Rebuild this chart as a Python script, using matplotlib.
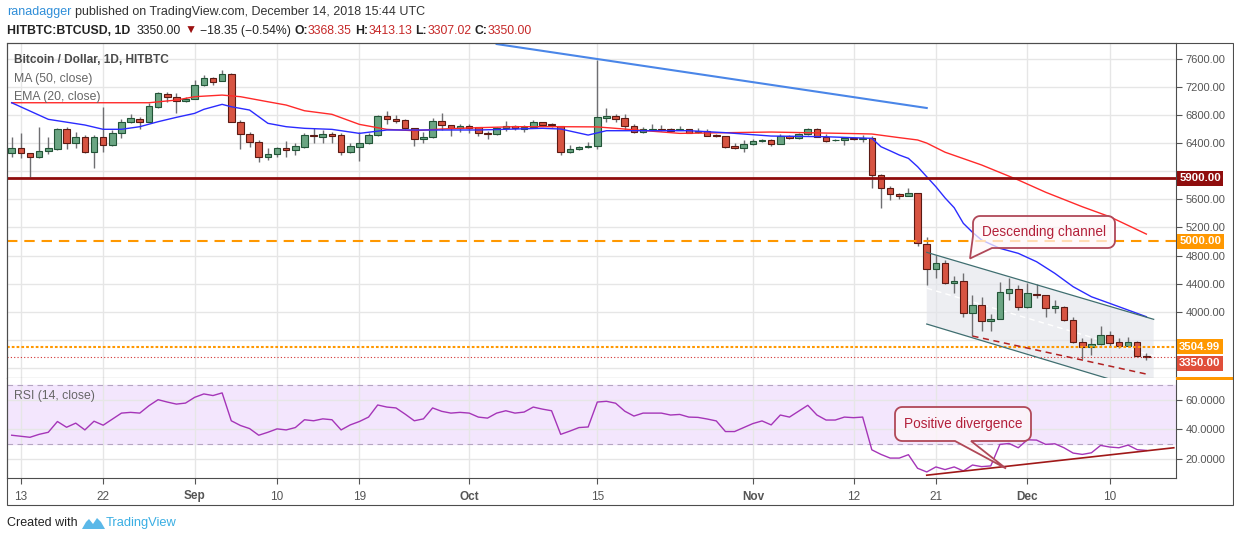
import numpy as np
import pandas as pd
import matplotlib
matplotlib.use("Agg")
import matplotlib.pyplot as plt
from matplotlib.patches import Polygon, Rectangle
from matplotlib.ticker import FuncFormatter
from matplotlib.transforms import IdentityTransform

plt.rcParams["font.family"] = ["Liberation Sans", "DejaVu Sans"]

W, H = 1234, 541

# ---- daily candles, Aug 12 .. Dec 14 2018 ----
dates = pd.date_range("2018-08-12", "2018-12-14", freq="D")

opens = [
    6254, 6325, 6254, 6197, 6287, 6315, 6596, 6396, 6490, 6273,
    6481, 6368, 6538, 6695, 6738, 6704, 6917, 7094, 7051, 6994,
    7031, 7222, 7321, 7283, 7378, 6704, 6529, 6410, 6197, 6249,
    6325, 6297, 6339, 6510, 6490, 6529, 6510, 6269, 6349, 6396,
    6510, 6785, 6738, 6723, 6610, 6453, 6481, 6709, 6652, 6610,
    6638, 6624, 6547, 6524, 6610, 6638, 6600, 6629, 6695, 6671,
    6643, 6269, 6311, 6339, 6354, 6762, 6781, 6752, 6638, 6553,
    6591, 6605, 6600, 6586, 6600, 6562, 6576, 6515, 6500, 6353,
    6334,
    6382, 6429, 6443, 6387, 6500, 6477, 6524, 6596, 6491, 6439,
    6439, 6476, 6462, 6467, 5945, 5756, 5676, 5648, 5686, 4960,
    4610, 4689, 4404, 4432, 3977, 4095, 3872, 3896, 4270, 4318,
    4062, 4252, 4233, 4048, 4062, 3877, 3565, 3493, 3536, 3668,
    3565, 3516, 3565, 3368.35,
]
highs = [
    6481, 6538, 6265, 6624, 6481, 6620, 6634, 6561, 6514, 6514,
    6909, 6586, 6738, 6813, 6775, 6965, 7131, 7131, 7108, 7059,
    7297, 7368, 7336, 7439, 7392, 6728, 6561, 6443, 6325, 6339,
    6429, 6405, 6538, 6610, 6586, 6561, 6538, 6396, 6561, 6538,
    6799, 6860, 6799, 6738, 6615, 6561, 6752, 6823, 6657, 6671,
    6671, 6633, 6576, 6624, 6718, 6652, 6657, 6728, 6704, 6681,
    6648, 6368, 6358, 6415, 7575, 6894, 6813, 6813, 6671, 6624,
    6671, 6652, 6610, 6647, 6605, 6610, 6600, 6529, 6500, 6396,
    6443,
    6453, 6462, 6457, 6529, 6510, 6538, 6610, 6610, 6529, 6457,
    6491, 6491, 6510, 6495, 5965, 5790, 5695, 5756, 5690, 5058,
    4807, 4735, 4508, 4546, 4238, 4213, 3967, 4418, 4484, 4380,
    4413, 4390, 4240, 4166, 4080, 3920, 3621, 3621, 3797, 3730,
    3621, 3644, 3587, 3413.13,
]
lows = [
    6197, 6183, 5921, 6190, 6240, 6300, 6315, 6325, 6265, 6041,
    6273, 6360, 6468, 6681, 6596, 6700, 6894, 6988, 6823, 6988,
    7025, 7212, 7226, 7280, 6700, 6311, 6348, 6135, 6159, 6206,
    6206, 6230, 6335, 6405, 6405, 6405, 6236, 6254, 6149, 6382,
    6505, 6666, 6681, 6596, 6362, 6405, 6472, 6586, 6505, 6561,
    6547, 6505, 6462, 6520, 6576, 6586, 6561, 6625, 6643, 6633,
    6236, 6254, 6301, 6330, 6320, 6704, 6704, 6586, 6543, 6538,
    6581, 6576, 6562, 6581, 6538, 6538, 6495, 6486, 6325, 6320,
    6277,
    6377, 6420, 6358, 6382, 6458, 6458, 6515, 6486, 6420, 6429,
    6377, 6443, 6420, 5756, 5471, 5590, 5610, 5640, 4934, 4380,
    4475, 4390, 4262, 3920, 3654, 3725, 3725, 3890, 4166, 4024,
    4055, 4190, 3929, 3977, 3870, 3560, 3323, 3384, 3530, 3502,
    3479, 3510, 3360, 3307.02,
]
closes = [
    6325, 6254, 6197, 6287, 6325, 6596, 6396, 6490, 6273, 6481,
    6368, 6538, 6695, 6752, 6704, 6927, 7108, 7051, 6994, 7031,
    7222, 7321, 7273, 7378, 6704, 6529, 6410, 6197, 6249, 6325,
    6297, 6358, 6514, 6496, 6524, 6505, 6269, 6358, 6396, 6510,
    6785, 6738, 6714, 6610, 6453, 6486, 6709, 6652, 6610, 6638,
    6619, 6538, 6524, 6610, 6638, 6610, 6629, 6695, 6662, 6657,
    6269, 6311, 6339, 6358, 6766, 6781, 6747, 6638, 6553, 6596,
    6605, 6591, 6567, 6600, 6548, 6576, 6505, 6496, 6348, 6334,
    6382,
    6424, 6448, 6391, 6496, 6477, 6524, 6596, 6491, 6434, 6448,
    6472, 6458, 6476, 5945, 5756, 5676, 5648, 5686, 4973, 4610,
    4689, 4404, 4432, 3977, 4095, 3872, 3896, 4285, 4318, 4062,
    4262, 4233, 4048, 4081, 3877, 3565, 3493, 3536, 3668, 3559,
    3516, 3565, 3368.35, 3350.00,
]

# RSI(14) daily values
rsi = [
    35.9, 35.2, 34.5, 36.5, 37.9, 45.2, 41.3, 44.1, 39.5, 45.4,
    42.7, 46.8, 50.9, 51.4, 50.9, 55.9, 60.0, 58.4, 57.0, 57.7,
    61.6, 63.9, 62.8, 64.6, 45.7, 42.5, 40.4, 35.9, 37.9, 40.2,
    39.5, 41.1, 46.4, 45.7, 47.0, 46.4, 39.5, 42.9, 45.2, 48.2,
    56.4, 55.0, 54.4, 50.2, 45.7, 47.0, 54.4, 52.1, 50.9, 51.4,
    50.9, 48.2, 47.5, 50.9, 52.5, 50.9, 51.6, 55.0, 53.6, 52.5,
    36.5, 38.7, 41.1, 41.5, 58.4, 58.9, 57.6, 52.2, 48.9, 50.9,
    50.9, 50.9, 49.6, 50.0, 48.2, 48.0, 46.9, 45.6, 38.4, 38.4,
    41.1,
    43.8, 45.6, 42.9, 49.6, 48.2, 52.2, 56.2, 49.6, 46.2, 46.2,
    48.2, 47.8, 48.2, 26.0, 22.9, 20.4, 20.4, 22.7, 13.5, 11.0,
    14.4, 12.6, 14.4, 11.7, 15.7, 14.6, 15.1, 29.7, 30.3, 27.4,
    32.8, 32.6, 29.7, 30.1, 27.4, 23.8, 22.9, 24.0, 29.0, 27.9,
    27.4, 29.2, 26.1, 25.6,
]

# moving averages, read at points along the lines
ma50_dates = ["2018-08-12", "2018-08-27", "2018-08-30", "2018-09-01", "2018-09-04",
              "2018-09-06", "2018-09-09", "2018-09-11", "2018-09-13", "2018-09-16",
              "2018-09-19", "2018-09-22", "2018-09-25", "2018-09-28", "2018-10-02",
              "2018-10-06", "2018-10-11", "2018-10-15", "2018-10-24", "2018-11-03",
              "2018-11-12", "2018-11-14", "2018-11-17", "2018-11-19", "2018-11-20",
              "2018-11-22", "2018-11-26", "2018-11-30", "2018-12-03", "2018-12-07",
              "2018-12-10", "2018-12-14"]
ma50_vals = [6974, 6974, 7012, 7060, 7083, 7060, 6988, 6941, 6860, 6809,
             6666, 6595, 6576, 6600, 6619, 6633, 6633, 6630, 6538, 6557,
             6535, 6529, 6477, 6444, 6400, 6270, 6088, 5875, 5700, 5494,
             5352, 5105]

ema20_dates = ["2018-08-12", "2018-08-16", "2018-08-20", "2018-08-22", "2018-08-24",
               "2018-08-26", "2018-08-28", "2018-08-30", "2018-09-01", "2018-09-02",
               "2018-09-04", "2018-09-05", "2018-09-07", "2018-09-09", "2018-09-11",
               "2018-09-13", "2018-09-16", "2018-09-19", "2018-09-22", "2018-10-02",
               "2018-10-09", "2018-10-11", "2018-10-14", "2018-10-16", "2018-10-25",
               "2018-10-29", "2018-11-03", "2018-11-09", "2018-11-14", "2018-11-15",
               "2018-11-16", "2018-11-17", "2018-11-18", "2018-11-19", "2018-11-20",
               "2018-11-21", "2018-11-22", "2018-11-23", "2018-11-24", "2018-11-25",
               "2018-11-26", "2018-11-28", "2018-11-30", "2018-12-02", "2018-12-04",
               "2018-12-06", "2018-12-08", "2018-12-10", "2018-12-12", "2018-12-14"]
ema20_vals = [6974, 6738, 6657, 6596, 6596, 6633, 6704, 6766, 6823, 6880,
              6951, 6917, 6870, 6681, 6633, 6610, 6595, 6538, 6586, 6586,
              6610, 6600, 6514, 6576, 6576, 6548, 6500, 6490, 6467, 6348,
              6290, 6230, 6182, 6064, 5921, 5779, 5620, 5480, 5258, 5130,
              5020, 4902, 4831, 4712, 4546, 4356, 4213, 4119, 4024, 3929]

# x axis labels
tick_dates = ["2018-08-13", "2018-08-22", "2018-09-01", "2018-09-10", "2018-09-19",
              "2018-10-01", "2018-10-15", "2018-11-01", "2018-11-12", "2018-11-21",
              "2018-12-01", "2018-12-10"]
tick_labels = ["13", "22", "Sep", "10", "19", "Oct", "15", "Nov", "12", "21", "Dec", "10"]

# horizontal levels
level_5900 = 5900
level_5000 = 5000
level_3505 = 3504.99
# price ticks hidden behind the level tags on the axis
covered_ticks = [3200, 3600, 6000]


def day(s):
    return (pd.Timestamp(s) - dates[0]).days


# drawings on the chart
trend_days = [day("2018-10-04"), day("2018-11-20")]
trend_vals = [7809, 6899]
chan_days = [day("2018-11-20"), day("2018-12-14") + 0.8]
chan_upper = [4845, 3892]
chan_lower = [3825, 2853]
support_days = [day("2018-11-25"), day("2018-12-14")]
support_vals = [3654, 3113]
div_days = [day("2018-11-20"), day("2018-12-17")]
div_vals = [8.8, 27.4]

assert len(opens) == len(highs) == len(lows) == len(closes) == len(rsi) == len(dates)

fig = plt.figure(figsize=(W / 100, H / 100), dpi=100)
PX = IdentityTransform()
renderer = fig.canvas.get_renderer()


def frame(x0, y0, x1, y1):
    return [x0 / W, 1 - y1 / H, (x1 - x0) / W, (y1 - y0) / H]


ax = fig.add_axes(frame(7, 43, 1176, 378))
rx = fig.add_axes(frame(7, 378, 1176, 478), sharex=ax)

x = np.arange(len(dates))
o, h, l, c = map(np.asarray, (opens, highs, lows, closes))
up = c >= o

# channel shading under everything
ax.add_patch(Polygon([(chan_days[0], chan_upper[0]), (chan_days[1], chan_upper[1]),
                      (chan_days[1], chan_lower[1]), (chan_days[0], chan_lower[0])],
                     closed=True, fc="#e1e4ea", alpha=0.6, ec="none", zorder=1))
ax.plot(chan_days, [(a + b) / 2 for a, b in zip(chan_upper, chan_lower)],
        color="white", lw=1.0, ls=(0, (4, 3)), zorder=2)

# candles
ax.vlines(x, l, h, color="#6f6f72", lw=1.0, zorder=3)
ax.bar(x[up], (c - o)[up], bottom=o[up], width=0.72, color="#6ba583",
       edgecolor="#225437", lw=0.8, zorder=4)
ax.bar(x[~up], (o - c)[~up], bottom=c[~up], width=0.72, color="#d75442",
       edgecolor="#5b1a13", lw=0.8, zorder=4)

# indicators
ax.plot([day(s) for s in ma50_dates], ma50_vals, color="#ff2a2a", lw=1.0, zorder=5)
ax.plot([day(s) for s in ema20_dates], ema20_vals, color="#2b2bff", lw=1.0, zorder=5)

# levels and drawings
ax.axhline(level_5900, color="#8f0d0d", lw=2.0, zorder=6)
ax.axhline(level_5000, color="#ff9800", lw=1.5, ls=(0, (5, 3.3)), zorder=6)
ax.axhline(level_3505, color="#ff9800", lw=1.5, ls=(0, (1.3, 1)), zorder=6)
ax.axhline(closes[-1], color="#d32f2f", lw=0.8, ls=(0, (1, 2)), zorder=6)
ax.plot(trend_days, trend_vals, color="#4a86e8", lw=1.5, zorder=6)
ax.plot(chan_days, chan_upper, color="#3f6e70", lw=0.9, zorder=6)
ax.plot(chan_days, chan_lower, color="#3f6e70", lw=0.9, zorder=6)
ax.plot(support_days, support_vals, color="#b22222", lw=1.1, ls=(0, (4, 3)), zorder=6)

ax.set_xlim(-0.51, 127.24)
ax.set_ylim(3057, 7824)
ax.set_yticks(np.arange(3200, 7601, 400))
ax.yaxis.set_major_formatter(
    FuncFormatter(lambda v, p: "" if round(v) in covered_ticks else f"{v:.2f}"))
ax.yaxis.tick_right()
ax.tick_params(axis="y", length=4, width=0.8, color="#555555", labelsize=8,
               labelcolor="#555555", pad=3)
ax.tick_params(axis="x", length=0, labelbottom=False)
ax.set_axisbelow(True)
ax.grid(True, color="#e6e6e6", lw=1.0)

# RSI panel
rx.axhspan(30, 70, color="#f3e6fd", zorder=0)
rx.axhline(70, color="#b5a6c2", lw=0.8, ls=(0, (5, 4)), zorder=1)
rx.axhline(30, color="#b5a6c2", lw=0.8, ls=(0, (5, 4)), zorder=1)
rx.plot(x, rsi, color="#a535b8", lw=1.0, zorder=4)
rx.plot(div_days, div_vals, color="#a01818", lw=1.2, zorder=5)
rx.set_ylim(6.9, 74.7)
rx.set_yticks([20, 40, 60])
rx.yaxis.set_major_formatter(FuncFormatter(lambda v, p: f"{v:.4f}"))
rx.yaxis.tick_right()
rx.tick_params(axis="y", length=4, width=0.8, color="#555555", labelsize=8,
               labelcolor="#555555", pad=3)
rx.set_xticks([day(s) for s in tick_dates])
rx.set_xticklabels(tick_labels)
rx.tick_params(axis="x", length=4, width=0.8, color="#555555", labelsize=8.5,
               labelcolor="#555555", pad=5)
for t in rx.get_xticklabels():
    if not t.get_text().isdigit():
        t.set_fontweight("bold")
rx.set_axisbelow(True)
rx.grid(True, color="#e6e6e6", lw=1.0)

for a in (ax, rx):
    for s in a.spines.values():
        s.set_color("#4d4d4d")
        s.set_linewidth(0.8)
rx.spines["top"].set_visible(False)


def tag(value, text, bg, dy=0):
    ax.annotate(text, xy=(1.0, value), xycoords=ax.get_yaxis_transform(),
                xytext=(2.3, dy), textcoords="offset points", ha="left", va="center",
                color="white", fontsize=8.2, fontweight="bold", annotation_clip=False,
                bbox=dict(boxstyle="square,pad=0.22", fc=bg, ec="none"), zorder=30)


tag(level_5900, f"{level_5900:.2f}", "#8f0d0d")
tag(level_5000, f"{level_5000:.2f}", "#ff9800")
tag(level_3505, f"{level_3505:.2f}", "#ff9800")
tag(closes[-1], f"{closes[-1]:.2f}", "#e04f3a", dy=-4.3)

fig.add_artist(Rectangle((1176, H - 379.5), 57, 2.5, transform=PX, fc="#ff9800", ec="none"))

# outer frame
fig.add_artist(Rectangle((6.5, H - 504.5), 1226.5, 461.5, transform=PX, fill=False,
                         ec="#4d4d4d", lw=0.8))


# callouts
def arc(cx, cy, r, a0, a1, n=7):
    a = np.radians(np.linspace(a0, a1, n))
    return list(zip(cx + r * np.cos(a), cy + r * np.sin(a)))


def callout(text, x0, y0, x1, y1, tail, corner=False, r=7):
    X0, X1, Yb, Yt = x0, x1, H - y1, H - y0
    pts = arc(X0 + r, Yt - r, r, 180, 90) + arc(X1 - r, Yt - r, r, 90, 0)
    pts += arc(X1 - r, Yb + r, r, 0, -90)
    pts += [(px, H - py) for px, py in tail]
    if not corner:
        pts += arc(X0 + r, Yb + r, r, -90, -180)
    fig.add_artist(Polygon(pts, closed=True, transform=PX, fc=(1.0, 0.97, 0.975, 0.72),
                           ec="#b04858", lw=1.3, zorder=20))
    fig.text((x0 + x1) / 2 / W, 1 - (y0 + y1) / 2 / H, text, ha="center", va="center",
             color="#b3203a", fontsize=9.8, zorder=21)


callout("Descending channel", 973, 216, 1115, 248,
        [(992, 248), (970, 258.5), (973, 236)], corner=True)
callout("Positive divergence", 895, 407, 1031, 441,
        [(971, 441), (1006, 468.5), (955, 441)])


# text runs
def text_run(x0, y, pieces, size):
    probe1 = fig.text(0, 0, "x x", fontsize=size)
    probe2 = fig.text(0, 0, "xx", fontsize=size)
    space = probe1.get_window_extent(renderer).width - probe2.get_window_extent(renderer).width
    probe1.remove()
    probe2.remove()
    xpos = x0
    for s, color, weight in pieces:
        lead = len(s) - len(s.lstrip(" "))
        xpos += lead * space
        t = fig.text(xpos / W, 1 - y / H, s.strip(" "), color=color, fontsize=size,
                     fontweight=weight, va="center", ha="left")
        xpos += t.get_window_extent(renderer).width


dark = "#222222"
red = "#c62828"
chg = closes[-1] - closes[-2]
pct = chg / closes[-2] * 100
text_run(7, 12, [("ranadagger", "#2f8ed8", "normal"),
                 (" published on TradingView.com, December 14, 2018 15:44 UTC", "#333333", "normal")],
         9.0)
text_run(7, 31, [("HITBTC:BTCUSD, 1D", dark, "bold"),
                 (f"  {closes[-1]:.2f}", dark, "normal"),
                 (" \u25bc", "#9b1010", "normal"),
                 (f" \u2212{abs(chg):.2f} (\u2212{abs(pct):.2f}%)", dark, "normal"),
                 (" O:", dark, "bold"), (f"{opens[-1]:.2f}", red, "normal"),
                 (" H:", dark, "bold"), (f"{highs[-1]:.2f}", red, "normal"),
                 (" L:", dark, "bold"), (f"{lows[-1]:.2f}", red, "normal"),
                 (" C:", dark, "bold"), (f"{closes[-1]:.2f}", red, "normal")],
         8.8)

fig.text(14 / W, 1 - 60 / H, "Bitcoin / Dollar, 1D, HITBTC", color="#4a4a4a",
         fontsize=8.6, fontweight="bold", va="center")
fig.text(14 / W, 1 - 79 / H, "MA (50, close)", color="#666666", fontsize=8.8, va="center")
fig.text(14 / W, 1 - 97 / H, "EMA (20, close)", color="#666666", fontsize=8.8, va="center")
fig.text(14 / W, 1 - 396 / H, "RSI (14, close)", color="#666666", fontsize=8.8, va="center")

# footer
fig.text(7 / W, 1 - 523 / H, "Created with", color="#222222", fontsize=9, va="center")
logo = [(82, 529), (86, 522), (89, 519), (93, 524), (97, 518), (101, 522), (105, 529)]
fig.add_artist(Polygon([(px, H - py) for px, py in logo], closed=True, transform=PX,
                       fc="#5bb8e8", ec="none"))
fig.text(106 / W, 1 - 523 / H, "TradingView", color="#3aaee3", fontsize=9.3, va="center")

fig.savefig("out.png", dpi=100)
